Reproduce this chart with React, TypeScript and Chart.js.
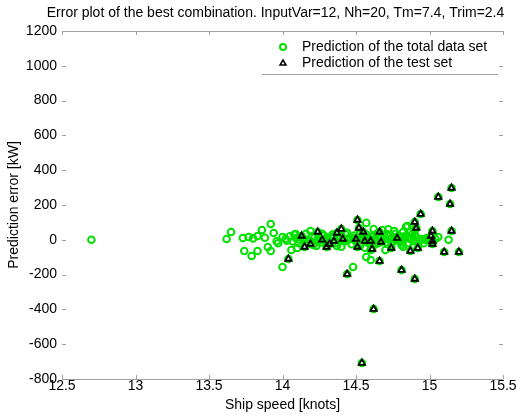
import React, { useEffect, useRef } from "react";
import { Chart, registerables } from "chart.js";

Chart.register(...registerables);

const chartTitle = "Error plot of the best combination. InputVar=12, Nh=20, Tm=7.4, Trim=2.4";
const xAxisTitle = "Ship speed [knots]";
const yAxisTitle = "Prediction error [kW]";
const legendLabels = ["Prediction of the total data set", "Prediction of the test set"];

const xTickValues = [12.5, 13, 13.5, 14, 14.5, 15, 15.5];
const yTickValues = [-800, -600, -400, -200, 0, 200, 400, 600, 800, 1000, 1200];

// training points (part of the total data set that is not in the test set)
const trainSpeed = [
  12.7, 13.62, 13.65, 13.73, 13.77, 13.74, 13.79, 13.83, 13.86, 13.9, 13.92, 13.92, 13.94, 13.83, 14.0, 14.0,
  14.06, 14.1, 14.09, 14.12, 14.19, 14.23, 14.22, 14.48, 14.57, 14.57, 14.6, 14.62, 14.68, 14.71, 14.7, 14.6,
  14.85, 14.9, 14.89, 14.85, 14.84, 14.82, 14.87, 14.82, 14.9, 14.94, 14.97, 15.06, 15.13, 14.89, 14.81,
  14.02, 14.05, 14.07, 14.08, 14.11, 14.14, 14.16, 14.18, 14.2, 14.21, 14.25, 14.26, 14.28, 14.29, 14.31,
  14.33, 14.34, 14.36, 14.38, 14.39, 14.42, 14.43, 14.45, 14.46, 14.47, 14.49, 14.5, 14.52, 14.53, 14.54,
  14.55, 14.57, 14.58, 14.59, 14.61, 14.62, 14.63, 14.64, 14.65, 14.66, 14.68, 14.69, 14.71, 14.72, 14.73,
  14.75, 14.76, 14.77, 14.79, 14.8, 14.81, 14.83, 14.84, 14.86, 14.87, 14.88, 14.91, 14.93, 14.95, 14.98,
  15.0, 15.04, 14.72, 13.97, 13.8, 14.44, 14.4,
  14.03, 14.09, 14.15, 14.24, 14.3, 14.35, 14.41, 14.48, 14.53, 14.58, 14.63, 14.67, 14.7, 14.74, 14.78,
  14.82, 14.86, 14.9, 14.96, 14.27, 14.37, 14.56, 14.76, 13.88, 13.96,
];
const trainError = [
  0, 5, 45, 10, 16, -64, -93, -64, 56, -41, 91, -64, 39, 22, 16, -156,
  -59, -47, 33, 0, 51, -36, 16, -156, 97, -99, -116, 62, 56, 33, -59, -59,
  79, 56, -7, 10, 74, 45, 45, 0, 0, 0, 0, 16, 0, -36, -30,
  5, 20, -10, 30, -20, 10, 35, -5, 20, -30, 10, -15, 25, 5, -10,
  15, 30, -20, 5, 20, -10, 30, 0, 15, -25, 25, -10, 10, -30, 20,
  0, 30, -15, 10, 20, -5, 0, 35, -20, 10, -5, 20, -15, 5, 25,
  -10, 15, 35, -5, 20, -15, 10, 25, -20, 5, 30, 15, -10, 5, 10,
  -5, 5, 60, -20, 8, 40, -40,
  -5, 10, 0, -10, 15, 20, -5, 10, 40, 0, -25, 15, 5, -30, 0,
  -40, 15, 30, -20, 35, -35, -45, 50, 12, -8,
];

// test set points
const testSpeed = [
  14.04, 14.13, 14.15, 14.19, 14.24, 14.27, 14.3, 14.32, 14.35, 14.37, 14.4, 14.41, 14.44, 14.5, 14.51,
  14.51, 14.52, 14.55, 14.56, 14.6, 14.61, 14.67, 14.66, 14.62, 14.54, 14.74, 14.78, 14.81, 14.87, 14.9,
  14.9, 14.91, 14.92, 14.94, 15.01, 15.02, 15.02, 15.02, 15.06, 15.14, 15.15, 15.15, 15.1, 15.2, 14.66,
];
const testError = [
  -110, 22, -41, -24, 45, 0, -41, -24, -7, 39, 62, 5, -197, 5, 114,
  -41, 68, 45, -7, -7, -53, -13, -122, -398, -708, -47, 10, -174, -64, -225,
  102, 68, -47, 148, 22, -7, 51, -24, 246, 206, 298, 51, -70, -70, 45,
];

const FONT = "'Liberation Sans', Arial, sans-serif";
const FONT_SIZE = 14;
const GREEN = "rgb(0,225,0)";

const framePlugin = {
  id: "matlabFrame",
  afterDraw(chart: any) {
    const { ctx, chartArea } = chart;
    const { left, right, top, bottom } = chartArea;
    const xs = chart.scales.x;
    const ys = chart.scales.y;
    ctx.save();
    ctx.strokeStyle = "#a0a0a0";
    ctx.lineWidth = 1;
    ctx.beginPath();
    ctx.moveTo(left, Math.round(top) + 0.5);
    ctx.lineTo(right, Math.round(top) + 0.5);
    ctx.moveTo(left, Math.round(bottom) + 0.5);
    ctx.lineTo(right, Math.round(bottom) + 0.5);
    const tl = 4;
    xTickValues.forEach((v) => {
      const px = Math.round(xs.getPixelForValue(v)) + 0.5;
      ctx.moveTo(px, bottom);
      ctx.lineTo(px, bottom - tl);
      ctx.moveTo(px, top);
      ctx.lineTo(px, top + tl);
    });
    yTickValues.forEach((v) => {
      const py = Math.round(ys.getPixelForValue(v)) + 0.5;
      ctx.moveTo(left, py);
      ctx.lineTo(left + tl, py);
      ctx.moveTo(right, py);
      ctx.lineTo(right - tl, py);
    });
    ctx.stroke();

    // legend box (only lower edge visible)
    const lx0 = left + 200;
    const lx1 = right - 5;
    const ly1 = top + 43;
    ctx.beginPath();
    ctx.moveTo(lx0, ly1 + 0.5);
    ctx.lineTo(lx1, ly1 + 0.5);
    ctx.stroke();

    const mx = lx0 + 21;
    const row1 = top + 16;
    const row2 = top + 32;
    ctx.lineWidth = 2;
    ctx.strokeStyle = GREEN;
    ctx.beginPath();
    ctx.arc(mx, row1, 3, 0, Math.PI * 2);
    ctx.stroke();
    ctx.strokeStyle = "#000";
    ctx.lineWidth = 1.5;
    ctx.beginPath();
    ctx.moveTo(mx, row2 - 3);
    ctx.lineTo(mx + 3, row2 + 2);
    ctx.lineTo(mx - 3, row2 + 2);
    ctx.closePath();
    ctx.stroke();

    ctx.fillStyle = "#000";
    ctx.font = `${FONT_SIZE}px ${FONT}`;
    ctx.textAlign = "left";
    ctx.textBaseline = "middle";
    ctx.fillText(legendLabels[0], mx + 19, row1);
    ctx.fillText(legendLabels[1], mx + 19, row2);

    // titles
    ctx.textAlign = "center";
    ctx.fillText(chartTitle, (left + right) / 2 - 7, 13);
    ctx.fillText(xAxisTitle, (left + right) / 2, bottom + 26);
    ctx.save();
    ctx.translate(14, (top + bottom) / 2);
    ctx.rotate(-Math.PI / 2);
    ctx.fillText(yAxisTitle, 0, 0);
    ctx.restore();
    ctx.restore();
  },
};

export default function App() {
  const canvasRef = useRef<HTMLCanvasElement | null>(null);

  useEffect(() => {
    document.body.style.margin = "0";
    const canvas = canvasRef.current;
    if (!canvas) return;
    const totalSpeed = [...trainSpeed, ...testSpeed];
    const totalError = [...trainError, ...testError];
    const chart = new Chart(canvas, {
      type: "scatter",
      data: {
        datasets: [
          {
            label: legendLabels[1],
            data: testSpeed.map((s, i) => ({ x: s, y: testError[i] })),
            pointStyle: "triangle",
            pointRadius: 3.6,
            borderWidth: 1.8,
            borderColor: "#000",
            backgroundColor: "rgba(255,255,255,0)",
            order: 0,
          },
          {
            label: legendLabels[0],
            data: totalSpeed.map((s, i) => ({ x: s, y: totalError[i] })),
            pointStyle: "circle",
            pointRadius: 3.3,
            borderWidth: 2,
            borderColor: GREEN,
            backgroundColor: "rgba(255,255,255,0)",
            order: 1,
          },
        ],
      },
      options: {
        animation: false,
        responsive: false,
        layout: { padding: { top: 31, right: 18, left: 0, bottom: 0 } },
        plugins: {
          legend: { display: false },
          title: { display: false },
          tooltip: { enabled: false },
        },
        scales: {
          x: {
            type: "linear",
            min: 12.5,
            max: 15.5,
            afterBuildTicks: (s: any) => {
              s.ticks = xTickValues.map((v) => ({ value: v }));
            },
            afterFit: (s: any) => {
              s.height = 40;
            },
            ticks: {
              padding: -1,
              color: "#000",
              maxRotation: 0,
              autoSkip: false,
              font: { family: FONT, size: FONT_SIZE },
              callback: (v: any) => String(v),
            },
            grid: { display: false, drawTicks: false },
            border: { display: false },
          },
          y: {
            type: "linear",
            min: -800,
            max: 1200,
            afterBuildTicks: (s: any) => {
              s.ticks = yTickValues.map((v) => ({ value: v }));
            },
            afterFit: (s: any) => {
              s.width = 62;
            },
            ticks: {
              padding: 5,
              color: "#000",
              autoSkip: false,
              font: { family: FONT, size: FONT_SIZE },
              callback: (v: any) => String(v),
            },
            grid: { display: false, drawTicks: false },
            border: { display: false },
          },
        },
      },
      plugins: [framePlugin],
    });
    return () => chart.destroy();
  }, []);

  return (
    <div style={{ position: "absolute", left: 0, top: 0, width: 521, height: 419, background: "#fff" }}>
      <canvas ref={canvasRef} width={521} height={419} style={{ width: 521, height: 419 }} />
    </div>
  );
}
